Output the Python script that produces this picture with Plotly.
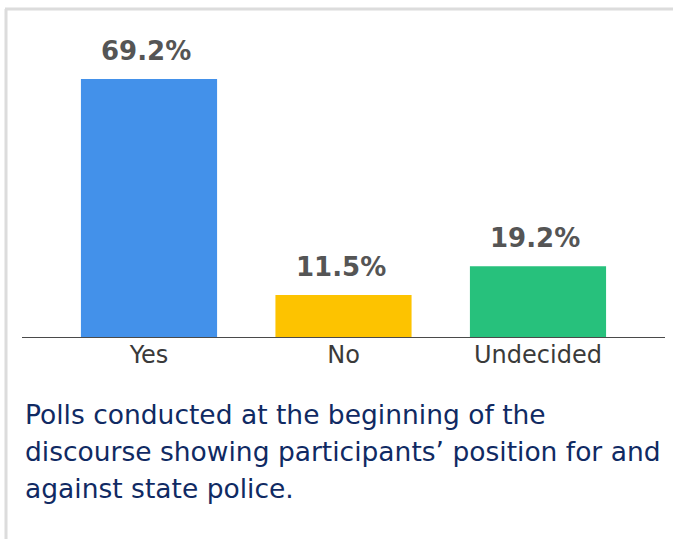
import plotly.graph_objects as go

categories = ["Yes", "No", "Undecided"]
values = [69.2, 11.5, 19.2]
value_labels = ["69.2%", "11.5%", "19.2%"]
colors = ["#4391ea", "#fdc300", "#27c17c"]
caption_lines = [
    "Polls conducted at the beginning of the",
    "discourse showing participants’ position for and",
    "against state police.",
]

W, H = 673, 539
base_px = 338
top_px = 20
px_per_unit = 3.743

fig = go.Figure()
fig.add_trace(go.Bar(
    x=list(range(len(categories))), y=values,
    marker=dict(color=colors, line=dict(width=0)),
    width=0.7, hoverinfo="skip",
))

for i, (v, lab) in enumerate(zip(values, value_labels)):
    fig.add_annotation(x=i, y=v, text="<b>" + lab + "</b>", showarrow=False,
                       xanchor="center", yanchor="middle", yshift=28, xshift=-3,
                       font=dict(family="DejaVu Sans", size=26, color="#555555"))

for k, line in enumerate(caption_lines):
    ypx = 414 + 37 * k
    fig.add_annotation(xref="paper", yref="paper", x=23 / W, y=1 - ypx / H,
                       text=line, showarrow=False, xanchor="left", yanchor="middle",
                       font=dict(family="DejaVu Sans", size=26.5, color="#102a63"))

# border
fig.add_shape(type="line", xref="paper", yref="paper", x0=5 / W, x1=1, y0=1 - 9 / H, y1=1 - 9 / H,
              line=dict(color="#dcdcdc", width=3))
fig.add_shape(type="line", xref="paper", yref="paper", x0=6 / W, x1=6 / W, y0=1 - 9 / H, y1=0,
              line=dict(color="#dcdcdc", width=3))

fig.update_layout(
    width=W, height=H,
    margin=dict(l=0, r=0, t=0, b=0),
    paper_bgcolor="white", plot_bgcolor="white",
    showlegend=False,
    xaxis=dict(range=[-0.653, 2.653], domain=[22 / W, 665 / W], tickmode="array",
               tickvals=list(range(len(categories))),
               ticktext=categories, showgrid=False, zeroline=False, showline=False,
               ticks="", tickfont=dict(family="DejaVu Sans", size=24, color="#3a3a3a"),
               fixedrange=True),
    yaxis=dict(range=[0, (base_px - top_px) / px_per_unit],
               domain=[1 - base_px / H, 1 - top_px / H],
               showgrid=False, zeroline=False, showline=False, showticklabels=False,
               fixedrange=True),
)
fig.add_shape(type="line", xref="x domain", yref="y", x0=0, x1=1, y0=0, y1=0,
              line=dict(color="#4a4a4a", width=2))

fig.write_html("out.html", config={"displayModeBar": False},
               post_script="document.body.style.margin='0';")
